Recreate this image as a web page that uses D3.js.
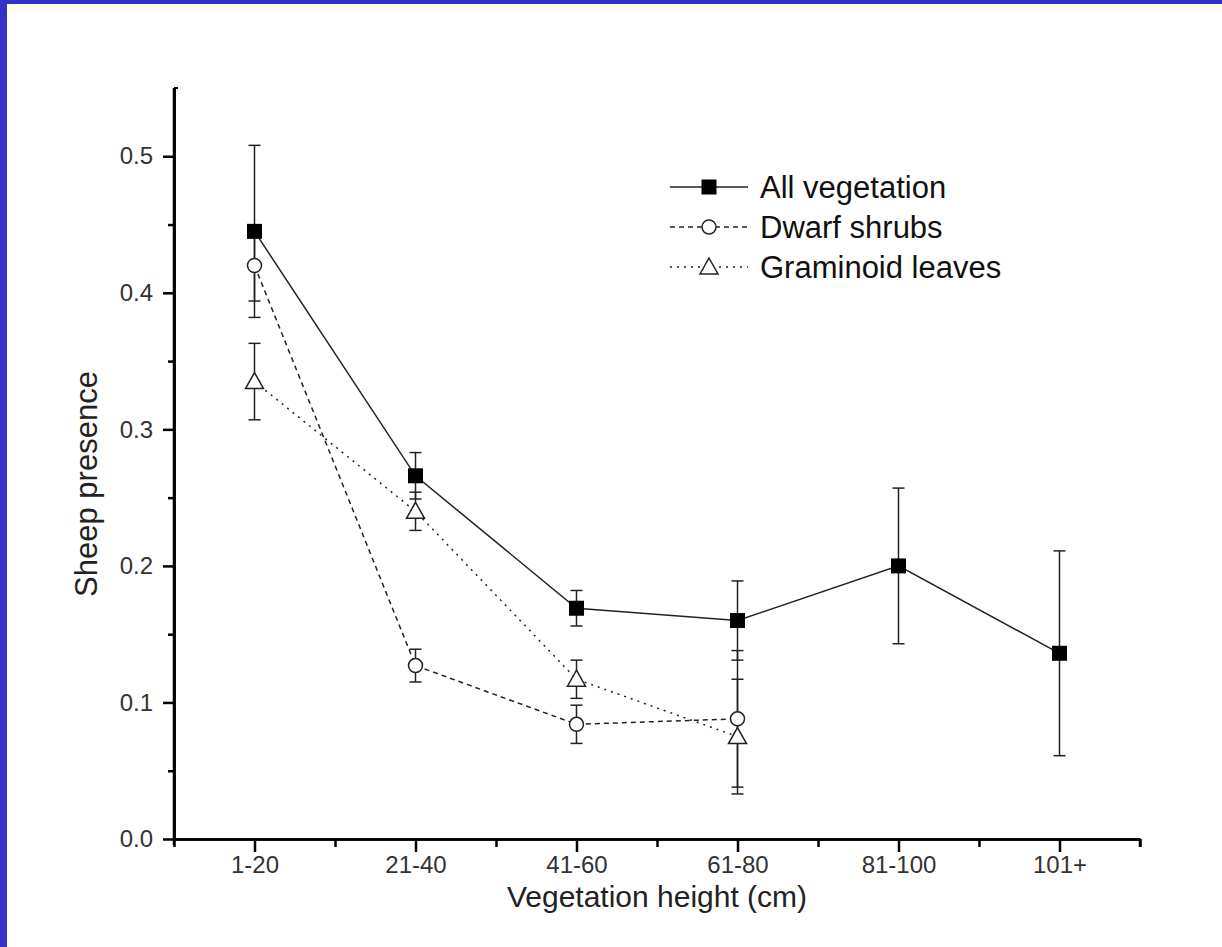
<!DOCTYPE html>
<html><head><meta charset="utf-8">
<script src="https://cdn.jsdelivr.net/npm/d3@7/dist/d3.min.js"></script>
<style>
html,body{margin:0;padding:0;background:#fff;}
svg{display:block;}
text{font-family:"Liberation Sans",Arial,sans-serif;}
</style></head>
<body>
<svg id="c" width="1222" height="947"></svg>
<script>
const categories = ["1-20","21-40","41-60","61-80","81-100","101+"];
const allVeg      = [0.445, 0.266, 0.169, 0.160, 0.200, 0.136];
const allVegErr   = [0.063, 0.017, 0.013, 0.029, 0.057, 0.075];
const dwarf       = [0.420, 0.127, 0.084, 0.088];
const dwarfErr    = [0.026, 0.012, 0.014, 0.050];
const gram        = [0.335, 0.240, 0.117, 0.075];
const gramErr     = [0.028, 0.014, 0.014, 0.042];
const yTicks      = [0.0, 0.1, 0.2, 0.3, 0.4, 0.5];
const seriesNames = ["All vegetation","Dwarf shrubs","Graminoid leaves"];

const svg = d3.select("#c");
// blue frame
svg.append("rect").attr("x",0).attr("y",0).attr("width",1222).attr("height",947).attr("fill","#3530c8");
svg.append("rect").attr("x",7).attr("y",4).attr("width",1215).attr("height",943).attr("fill","#fffef6");
svg.append("rect").attr("x",7).attr("y",13).attr("width",1215).attr("height",934).attr("fill","#ffffff");

const x0 = 174, x1 = 1140, yTop = 88, yBot = 839;
const x = d3.scaleLinear().domain([0.5, 6.5]).range([x0, x1]);
const y = d3.scaleLinear().domain([0, 0.55]).range([yBot, yTop]);

const g = svg.append("g");
// axes
const xAxis = d3.axisBottom(x).tickValues(d3.range(1,7)).tickFormat(i => categories[i-1]).tickSize(13).tickSizeOuter(0).tickPadding(4);
const xMinor = d3.axisBottom(x).tickValues(d3.range(0.5,7,1)).tickFormat("").tickSize(8).tickSizeOuter(0);
const yAxis = d3.axisLeft(y).tickValues(yTicks).tickFormat(d3.format(".1f")).tickSize(11).tickSizeOuter(0).tickPadding(10);
const yMinor = d3.axisLeft(y).tickValues(d3.range(0.05,0.55,0.1)).tickFormat("").tickSize(6).tickSizeOuter(0);

function styleAxis(sel){
  sel.selectAll("path").attr("stroke","#000").attr("stroke-width",2.5);
  sel.selectAll("line").attr("stroke","#000").attr("stroke-width",2.5);
  sel.selectAll("text").attr("fill","#333").attr("font-size",24);
}
g.append("g").attr("transform",`translate(0,${yBot})`).call(xMinor).call(styleAxis);
g.append("g").attr("transform",`translate(0,${yBot})`).call(xAxis).call(styleAxis);
g.append("g").attr("transform",`translate(${x0},0)`).call(yMinor).call(styleAxis);
g.append("g").attr("transform",`translate(${x0},0)`).call(yAxis).call(styleAxis);
// extend y axis to top
g.append("line").attr("x1",x0).attr("x2",x0).attr("y1",yTop).attr("y2",yBot+6).attr("stroke","#000").attr("stroke-width",2.5);
g.append("line").attr("x1",x0).attr("x2",x0+4).attr("y1",yTop).attr("y2",yTop).attr("stroke","#000").attr("stroke-width",2);
g.append("line").attr("x1",x1).attr("x2",x1).attr("y1",yBot).attr("y2",yBot+8).attr("stroke","#000").attr("stroke-width",2.5);

// titles
svg.append("text").attr("x",657).attr("y",907).attr("text-anchor","middle").attr("font-size",30).attr("fill","#222").text("Vegetation height (cm)");
svg.append("text").attr("transform","translate(97,484) rotate(-90)").attr("text-anchor","middle").attr("font-size",31).attr("fill","#222").text("Sheep presence");

const series = [
  {vals: allVeg, err: allVegErr, dash: null, marker: "square"},
  {vals: dwarf, err: dwarfErr, dash: "5,4", marker: "circle"},
  {vals: gram, err: gramErr, dash: "2,5", marker: "triangle"}
];
const line = d3.line().x((d,i)=>x(i+1)).y(d=>y(d));

function drawMarker(sel, type, cx, cy){
  if(type==="square"){
    sel.append("rect").attr("x",cx-7.5).attr("y",cy-7.5).attr("width",15).attr("height",15).attr("fill","#000");
  } else if(type==="circle"){
    sel.append("circle").attr("cx",cx).attr("cy",cy).attr("r",7).attr("fill","#fff").attr("stroke","#222").attr("stroke-width",1.5);
  } else {
    sel.append("path").attr("d",`M${cx},${cy-9}L${cx+9},${cy+7}L${cx-9},${cy+7}Z`).attr("fill","#fff").attr("stroke","#222").attr("stroke-width",1.5);
  }
}

series.forEach(s=>{
  g.append("path").datum(s.vals).attr("d",line).attr("fill","none").attr("stroke","#222")
    .attr("stroke-width",1.5).attr("stroke-dasharray",s.dash);
});
// error bars
series.forEach(s=>{
  s.vals.forEach((v,i)=>{
    const cx = x(i+1), lo = y(v - s.err[i]), hi = y(v + s.err[i]);
    g.append("line").attr("x1",cx).attr("x2",cx).attr("y1",hi).attr("y2",lo).attr("stroke","#222").attr("stroke-width",1.5);
    [hi,lo].forEach(yy=>g.append("line").attr("x1",cx-6).attr("x2",cx+6).attr("y1",yy).attr("y2",yy).attr("stroke","#222").attr("stroke-width",1.5));
  });
});
series.forEach(s=>{
  s.vals.forEach((v,i)=>drawMarker(g, s.marker, x(i+1), y(v)));
});

// legend
const lg = svg.append("g");
series.forEach((s,k)=>{
  const ly = 187 + k*40;
  lg.append("line").attr("x1",670).attr("x2",748).attr("y1",ly).attr("y2",ly).attr("stroke","#222")
    .attr("stroke-width",1.5).attr("stroke-dasharray",s.dash);
  drawMarker(lg, s.marker, 709, ly);
  lg.append("text").attr("x",760).attr("y",ly+11).attr("font-size",31).attr("fill","#111").text(seriesNames[k]);
});
</script>
</body></html>
